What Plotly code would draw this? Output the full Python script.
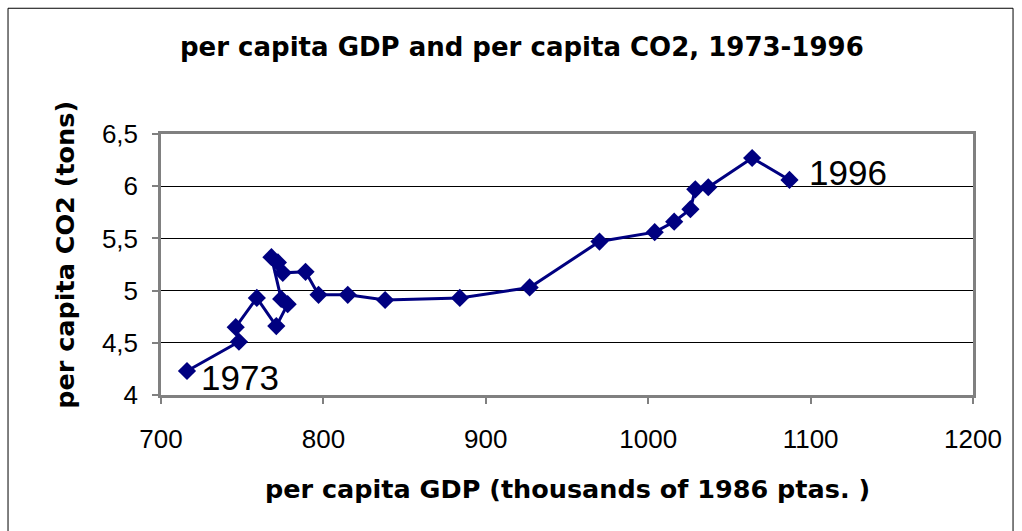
import plotly.graph_objects as go

# per capita GDP (thousands of 1986 ptas.) and per capita CO2 (tons), 1973-1996
years = list(range(1973, 1997))
gdp = [716, 748, 746, 759, 771, 778, 774, 768, 772, 775, 789, 797,
       815, 838, 884, 927, 970, 1004, 1016, 1026, 1029, 1037, 1064, 1087]
co2 = [4.23, 4.51, 4.65, 4.93, 4.66, 4.87, 4.92, 5.32, 5.27, 5.17, 5.18, 4.96,
       4.96, 4.91, 4.93, 5.03, 5.47, 5.56, 5.66, 5.78, 5.97, 5.99, 6.27, 6.06]

x_ticks = [700, 800, 900, 1000, 1100, 1200]
y_ticks = [4, 4.5, 5, 5.5, 6, 6.5]

NAVY = "#000080"
FONT = "Liberation Sans, Arial, sans-serif"
BFONT = "DejaVu Sans, Liberation Sans, sans-serif"

fig = go.Figure()
fig.add_trace(go.Scatter(
    x=gdp, y=co2, mode="lines+markers",
    line=dict(color=NAVY, width=3),
    marker=dict(symbol="diamond", size=14, color=NAVY),
    hoverinfo="skip", showlegend=False,
))

fig.add_annotation(x=gdp[0], y=co2[0], text=str(years[0]), showarrow=False,
                   xanchor="left", yanchor="middle", xshift=12, yshift=-7,
                   font=dict(family=FONT, size=35, color="black"))
fig.add_annotation(x=gdp[-1], y=co2[-1], text=str(years[-1]), showarrow=False,
                   xanchor="left", yanchor="middle", xshift=18, yshift=7,
                   font=dict(family=FONT, size=35, color="black"))

fig.add_annotation(xref="paper", yref="paper", x=0.4446, y=1.3327,
                   text="<b>per capita GDP and per capita CO2, 1973-1996</b>",
                   showarrow=False, xanchor="center", yanchor="middle",
                   font=dict(family=BFONT, size=26, color="black"))
fig.add_annotation(xref="paper", yref="paper", x=0.5, y=-0.3614,
                   text="<b>per capita GDP (thousands of 1986 ptas. )</b>",
                   showarrow=False, xanchor="center", yanchor="middle",
                   font=dict(family=BFONT, size=25.5, color="black"))
fig.add_annotation(xref="paper", yref="paper", x=-0.1182, y=0.537,
                   text="<b>per capita CO2 (tons)</b>", textangle=-90,
                   showarrow=False, xanchor="center", yanchor="middle",
                   font=dict(family=BFONT, size=25.5, color="black"))

# outer chart frame
fig.add_shape(type="rect", xref="paper", yref="paper",
              x0=-0.1884, x1=1.0493, y0=-0.6, y1=1.4818,
              line=dict(color="black", width=1), layer="below")

fig.update_xaxes(range=[700, 1200], tickvals=x_ticks, showgrid=False,
                 zeroline=False, showline=True, mirror=True,
                 linecolor="#808080", linewidth=2.5,
                 ticks="outside", ticklen=6, tickcolor="#808080", tickwidth=1.5,
                 ticklabelstandoff=13,
                 tickfont=dict(family=FONT, size=26, color="black"))
fig.update_yaxes(range=[4, 6.5], tickvals=y_ticks, showgrid=True,
                 gridcolor="black", gridwidth=1,
                 zeroline=False, showline=True, mirror=True,
                 linecolor="#808080", linewidth=2.5,
                 ticks="outside", ticklen=6, tickcolor="#808080", tickwidth=1.5,
                 ticklabelstandoff=9,
                 tickfont=dict(family=FONT, size=26, color="black"))

fig.update_layout(
    width=1022, height=531,
    margin=dict(l=161, r=49, t=134, b=135.5),
    paper_bgcolor="white", plot_bgcolor="white",
    separators=", ",
    font=dict(family=FONT),
)

fig.write_html("out.html")
